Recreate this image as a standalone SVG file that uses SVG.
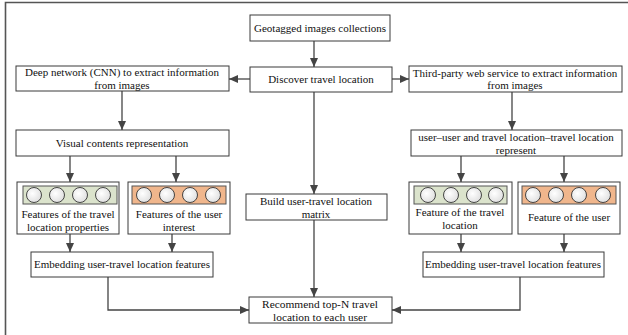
<svg xmlns="http://www.w3.org/2000/svg" width="628" height="335" viewBox="0 0 628 335">
<defs>
<style>
.box{fill:#fff;stroke:#3a3a3a;stroke-width:1}
.t{font-family:"Liberation Serif","Times New Roman",serif;font-size:11px;fill:#111;text-anchor:middle}
.r{font-size:11.4px}
.c{fill:none;stroke:#444;stroke-width:1.3;marker-end:url(#ah)}
.g{fill:#dbe3cc;stroke:#555;stroke-width:1}
.o{fill:#f0b68c;stroke:#555;stroke-width:1}
.ci{fill:url(#cg);stroke:#333;stroke-width:0.9}
</style>
<radialGradient id="cg" cx="0.4" cy="0.4" r="0.7">
<stop offset="0" stop-color="#ffffff"/>
<stop offset="1" stop-color="#dcdcdc"/>
</radialGradient>
<marker id="ah" markerUnits="userSpaceOnUse" markerWidth="10" markerHeight="8" refX="9" refY="4" orient="auto">
<path d="M0,0 L9,4 L0,8 Z" fill="#444"/>
</marker>
</defs>
<rect width="628" height="335" fill="#fff"/>
<path d="M5.5,335 V2.5 H628" fill="none" stroke="#555" stroke-width="1.6"/>

<g id="connectors">
<path class="c" d="M314,41 V67"/>
<path class="c" d="M250,79 H229"/>
<path class="c" d="M392,79 H409"/>
<path class="c" d="M122,91 V130"/>
<path class="c" d="M512,92 V130"/>
<path class="c" d="M70,156 V182"/>
<path class="c" d="M176,156 V182"/>
<path class="c" d="M461,156 V182"/>
<path class="c" d="M564,156 V182"/>
<path class="c" d="M70,234 V252"/>
<path class="c" d="M172,234 V252"/>
<path class="c" d="M461,234 V252"/>
<path class="c" d="M564,234 V252"/>
<path class="c" d="M314,92 V194"/>
<path class="c" d="M314,220 V297"/>
<path class="c" d="M108,277 V310 H249"/>
<path class="c" d="M520,277 V310 H392"/>
</g>

<g id="geotagged">
<rect class="box" x="250" y="15" width="140" height="26"/>
<text class="t" x="320" y="32">Geotagged images collections</text>
</g>
<g id="discover">
<rect class="box" x="250" y="67" width="142" height="25"/>
<text class="t" x="321" y="83">Discover travel location</text>
</g>
<g id="deep">
<rect class="box" x="16" y="66" width="213" height="25"/>
<text class="t" x="122" y="76">Deep network (CNN) to extract information</text>
<text class="t" x="122" y="89">from images</text>
</g>
<g id="third">
<rect class="box" x="409" y="66" width="213" height="26"/>
<text class="t" x="515" y="77">Third-party web service to extract information</text>
<text class="t" x="515" y="89">from images</text>
</g>
<g id="visual">
<rect class="box" x="16" y="130" width="213" height="26"/>
<text class="t" x="122" y="147">Visual contents representation</text>
</g>
<g id="useruser">
<rect class="box" x="411" y="130" width="211" height="26"/>
<text class="t" x="516" y="141">user–user and travel location–travel location</text>
<text class="t" x="516" y="154">represent</text>
</g>
<g id="feat1">
<rect class="box" x="17" y="182" width="102" height="52"/>
<rect class="g" x="23" y="186" width="94" height="18"/>
<circle class="ci" cx="34" cy="195" r="7.5"/>
<circle class="ci" cx="57" cy="195" r="7.5"/>
<circle class="ci" cx="80" cy="195" r="7.5"/>
<circle class="ci" cx="103" cy="195" r="7.5"/>
<text class="t" x="68" y="218">Features of the travel</text>
<text class="t" x="68" y="231">location properties</text>
</g>
<g id="feat2">
<rect class="box" x="128" y="182" width="102" height="52"/>
<rect class="o" x="132" y="186" width="94" height="18"/>
<circle class="ci" cx="144" cy="195" r="7.5"/>
<circle class="ci" cx="167" cy="195" r="7.5"/>
<circle class="ci" cx="190" cy="195" r="7.5"/>
<circle class="ci" cx="213" cy="195" r="7.5"/>
<text class="t" x="179" y="218">Features of the user</text>
<text class="t" x="179" y="231">interest</text>
</g>
<g id="build">
<rect class="box" x="246" y="194" width="141" height="26"/>
<text class="t" x="316" y="205">Build user-travel location</text>
<text class="t" x="316" y="217.5">matrix</text>
</g>
<g id="feat3">
<rect class="box" x="409" y="182" width="103" height="52"/>
<rect class="g" x="414" y="186" width="93" height="18"/>
<circle class="ci" cx="428" cy="195" r="7.5"/>
<circle class="ci" cx="451" cy="195" r="7.5"/>
<circle class="ci" cx="474" cy="195" r="7.5"/>
<circle class="ci" cx="496" cy="195" r="7.5"/>
<text class="t" x="460" y="216">Feature of the travel</text>
<text class="t" x="460" y="229">location</text>
</g>
<g id="feat4">
<rect class="box" x="518" y="182" width="102" height="52"/>
<rect class="o" x="522" y="186" width="94" height="18"/>
<circle class="ci" cx="533" cy="195" r="7.5"/>
<circle class="ci" cx="556" cy="195" r="7.5"/>
<circle class="ci" cx="579" cy="195" r="7.5"/>
<circle class="ci" cx="603" cy="195" r="7.5"/>
<text class="t" x="569" y="221">Feature of the user</text>
</g>
<g id="embedL">
<rect class="box" x="31" y="252" width="182" height="25"/>
<text class="t" x="122" y="268">Embedding user-travel location features</text>
</g>
<g id="embedR">
<rect class="box" x="423" y="252" width="181" height="25"/>
<text class="t" x="513" y="268">Embedding user-travel location features</text>
</g>
<g id="recommend">
<rect class="box" x="249" y="297" width="143" height="26"/>
<text class="t r" x="320" y="307.5">Recommend top-N travel</text>
<text class="t r" x="320" y="320.5">location to each user</text>
</g>
</svg>
